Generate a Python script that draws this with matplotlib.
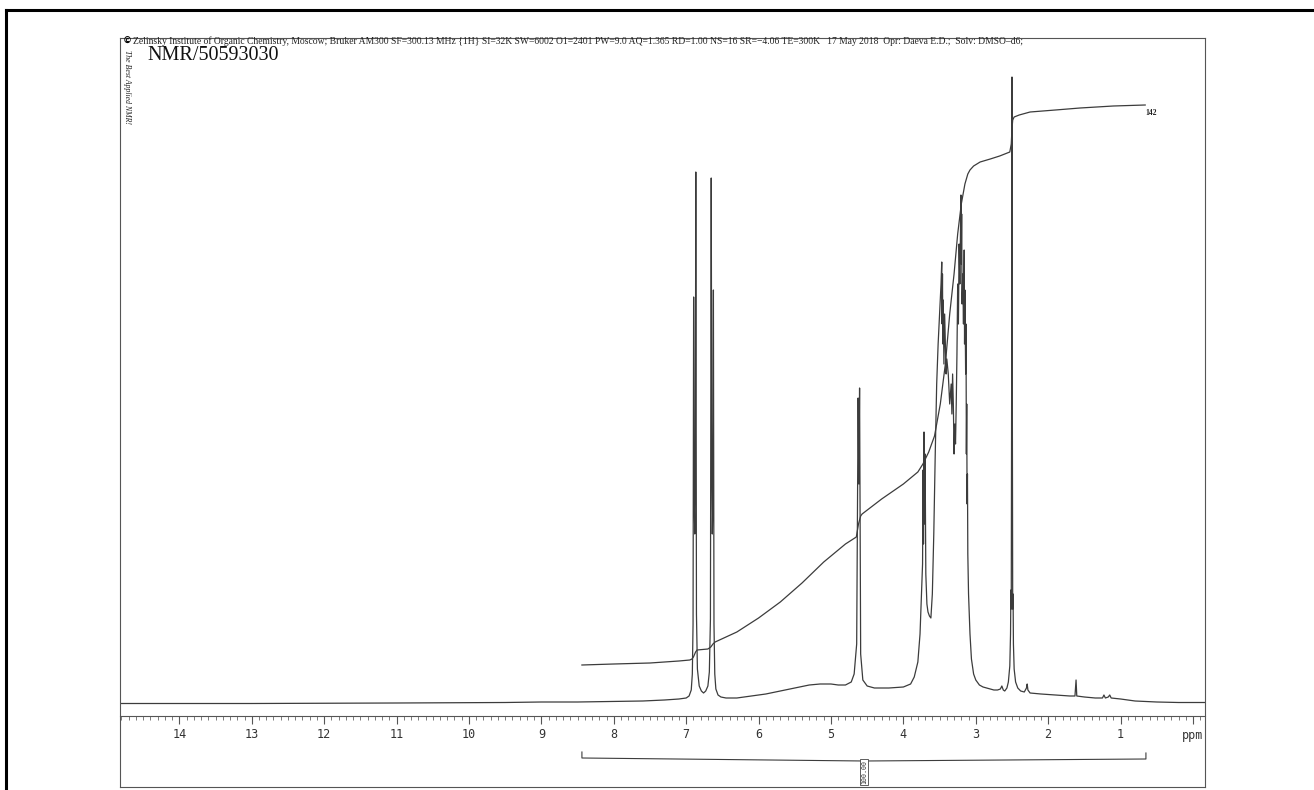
import matplotlib
matplotlib.use('Agg')
import matplotlib.pyplot as plt
from matplotlib.ticker import MultipleLocator

# 1H spectrum trace: chemical shift (ppm) and signal height above baseline
shift_ppm = [14.82, 13.0, 11.0, 9.5, 9.0, 8.5, 8.0, 7.6, 7.3, 7.1, 7.0, 6.96, 6.93,
             6.915, 6.905, 6.897, 6.888, 6.881, 6.874, 6.867, 6.858, 6.845, 6.82,
             6.79, 6.76, 6.73, 6.70, 6.68, 6.665, 6.654, 6.646, 6.639, 6.632, 6.624,
             6.616, 6.605, 6.59, 6.56, 6.52, 6.45, 6.3, 6.1, 5.9, 5.7, 5.5, 5.3, 5.15,
             5.0, 4.9, 4.8, 4.72, 4.68, 4.645, 4.625, 4.615, 4.605, 4.59, 4.56, 4.5,
             4.4, 4.2, 4.0, 3.9, 3.85, 3.8, 3.77, 3.75, 3.735, 3.728, 3.722, 3.715,
             3.708, 3.70, 3.69, 3.675, 3.66, 3.64, 3.62, 3.60, 3.58, 3.56, 3.54, 3.52,
             3.50, 3.48, 3.47, 3.465, 3.46, 3.455, 3.45, 3.44, 3.43, 3.42, 3.41, 3.40,
             3.38, 3.36, 3.34, 3.33, 3.32, 3.31, 3.30, 3.29, 3.28, 3.27, 3.26, 3.25,
             3.24, 3.23, 3.22, 3.21, 3.205, 3.20, 3.195, 3.19, 3.18, 3.17, 3.16, 3.155,
             3.15, 3.14, 3.135, 3.13, 3.125, 3.12, 3.115, 3.11, 3.10, 3.08, 3.06, 3.03,
             3.0, 2.95, 2.9, 2.85, 2.8, 2.75, 2.70, 2.66, 2.64, 2.62, 2.60, 2.57, 2.55,
             2.53, 2.52, 2.515, 2.51, 2.505, 2.50, 2.495, 2.49, 2.485, 2.48, 2.47, 2.45,
             2.42, 2.38, 2.33, 2.30, 2.29, 2.28, 2.25, 2.1, 1.9, 1.7, 1.63, 1.615, 1.605,
             1.5, 1.35, 1.25, 1.23, 1.21, 1.17, 1.15, 1.13, 1.0, 0.8, 0.5, 0.2, -0.166]
signal = [0.5, 0.5, 1, 1.5, 2, 2, 2.5, 3, 4, 5, 6, 8, 14,
          30, 80, 407, 200, 170, 230, 532, 90, 35, 18,
          13, 11, 13, 18, 32, 85, 526, 230, 170, 200, 414,
          80, 30, 15, 9, 7, 6, 6, 8, 10, 13, 16, 19, 20,
          20, 19, 19, 22, 30, 60, 306, 220, 316, 50, 24, 18,
          16, 16, 17, 20, 27, 42, 70, 110, 140, 234, 160, 272,
          180, 250, 130, 100, 92, 88, 86, 110, 170, 250, 320, 360,
          390, 420, 442, 380, 430, 360, 404, 340, 390, 360, 330, 345,
          330, 300, 320, 290, 330, 300, 250, 280, 260, 300, 350, 420,
          380, 460, 420, 480, 509, 440, 490, 400, 430, 380, 454, 360,
          414, 330, 380, 250, 300, 200, 230, 150, 110, 70, 45, 30,
          24, 19, 17, 16, 15, 14, 14, 15, 18, 14, 13, 16, 22,
          38, 70, 114, 95, 300, 627, 300, 95, 110, 60, 35, 22,
          16, 13, 12, 16, 20, 14, 11, 10, 9, 8, 8, 24, 8,
          7, 6, 6, 9, 6, 7, 9, 6, 5, 3, 2, 1.5, 1.5]

# running integral drawn over the spectrum
integ_ppm = [8.44, 8.0, 7.5, 7.1, 6.95, 6.92, 6.90, 6.87, 6.85, 6.70, 6.66, 6.63,
             6.60, 6.3, 6.0, 5.7, 5.4, 5.1, 4.8, 4.65, 4.62, 4.59, 4.57, 4.3, 4.0,
             3.8, 3.73, 3.65, 3.57, 3.49, 3.42, 3.36, 3.30, 3.25, 3.20, 3.15, 3.11,
             3.08, 3.03, 2.94, 2.80, 2.67, 2.53, 2.51, 2.50, 2.49, 2.47, 2.40, 2.25,
             1.9, 1.56, 1.1, 0.66]
integ_val = [39, 40, 41, 43, 44, 45, 47, 52, 54, 55, 57, 60,
             62, 72, 86, 102, 121, 142, 160, 167, 180, 188, 190, 205, 220,
             232, 240, 252, 268, 300, 340, 390, 430, 470, 500, 520, 530,
             534, 538, 542, 545, 548, 552, 560, 575, 584, 587, 589, 592,
             594, 596, 598, 599]

major_ticks = list(range(0, 15))
tick_labels = ['ppm'] + [str(v) for v in range(1, 15)]
integral_value = 100.00
integral_range = (8.44, 0.65)

header = ('Zelinsky Institute of Organic Chemistry, Moscow; Bruker AM300 SF=300.13 MHz {1H} '
          'SI=32K SW=6002 O1=2401 PW=9.0 AQ=1.365 RD=1.00 NS=16 SR=\u22124.06 TE=300K   '
          '17 May 2018  Opr: Daeva E.D.;  Solv: DMSO\u2013d6;')

W, H = 1314, 790
ink = '#3c3c3c'

fig = plt.figure(figsize=(W / 100, H / 100), dpi=100)
fig.patch.set_facecolor('white')

def frac(x0, y0, x1, y1):
    # pixel box -> figure fraction rect
    return [x0 / W, 1 - y1 / H, (x1 - x0) / W, (y1 - y0) / H]

# outer page border (left and top edge)
fig.add_artist(plt.Line2D([6 / W, 6 / W], [0, 1 - 10 / H], color='black', lw=2.2))
fig.add_artist(plt.Line2D([6 / W, 1], [1 - 10 / H, 1 - 10 / H], color='black', lw=2.2))

# spectrum frame
ax = fig.add_axes(frac(120, 38, 1205, 787))
ax.set_xlim(14.82, -0.166)
ax.set_ylim(-83, 666)
ax.set_xticks([])
ax.set_yticks([])
for s in ax.spines.values():
    s.set_color('#555555')
    s.set_linewidth(0.8)

ax.plot(shift_ppm, signal, color=ink, lw=0.9)
ax.plot(integ_ppm, integ_val, color=ink, lw=0.9)
ax.text(0.66, integ_val[-1] - 8, '142', fontsize=5.5, family='Liberation Serif',
        fontweight='bold', color='#222222', va='center', ha='left')

# integral bracket below the scale
lo, hi = integral_range
mid = 4.54
ax.plot([lo, lo, mid, hi, hi], [-48, -54, -57, -55, -49], color=ink, lw=0.8)
ax.plot([mid, mid], [-57, -60], color=ink, lw=0.8)
ax.text(mid, -68, '%.2f' % integral_value, rotation=90, fontsize=4.8,
        family='DejaVu Sans Mono', ha='center', va='center', color='#333333',
        bbox=dict(boxstyle='square,pad=0.15', fc='white', ec='#444444', lw=0.6))

# ppm ruler
rx = fig.add_axes(frac(120, 714, 1205, 716))
rx.set_xlim(14.82, -0.166)
rx.set_yticks([])
for k in ('top', 'left', 'right'):
    rx.spines[k].set_visible(False)
rx.spines['bottom'].set_color('#555555')
rx.spines['bottom'].set_linewidth(0.8)
rx.patch.set_alpha(0)
rx.set_xticks(major_ticks, labels=tick_labels)
rx.xaxis.set_minor_locator(MultipleLocator(0.1))
rx.tick_params(axis='x', which='major', direction='out', length=6, width=0.8,
               color='#555555', labelsize=8.5, pad=3, labelcolor='#333333')
rx.tick_params(axis='x', which='minor', direction='out', length=3, width=0.6,
               color='#666666')
for t in rx.get_xticklabels():
    t.set_family('DejaVu Sans Mono')

# page annotations
fig.text(132 / W, 1 - 41 / H, '\u00a9', fontsize=6.5, family='DejaVu Sans',
         fontweight='bold', va='center', ha='right')
fig.text(133 / W, 1 - 41 / H, header, fontsize=6.95, family='Liberation Serif',
         va='center', ha='left', color='#222222')
fig.text(147 / W, 1 - 56 / H, 'NMR/50593030', fontsize=14.5, family='Liberation Serif',
         va='center', ha='left', color='#111111')
fig.text(127 / W, 1 - 50 / H, 'The Best Applied NMR!', fontsize=5.6,
         family='Liberation Serif', style='italic', rotation=-90,
         va='top', ha='center', color='#222222')

fig.savefig('out.png', dpi=100)
